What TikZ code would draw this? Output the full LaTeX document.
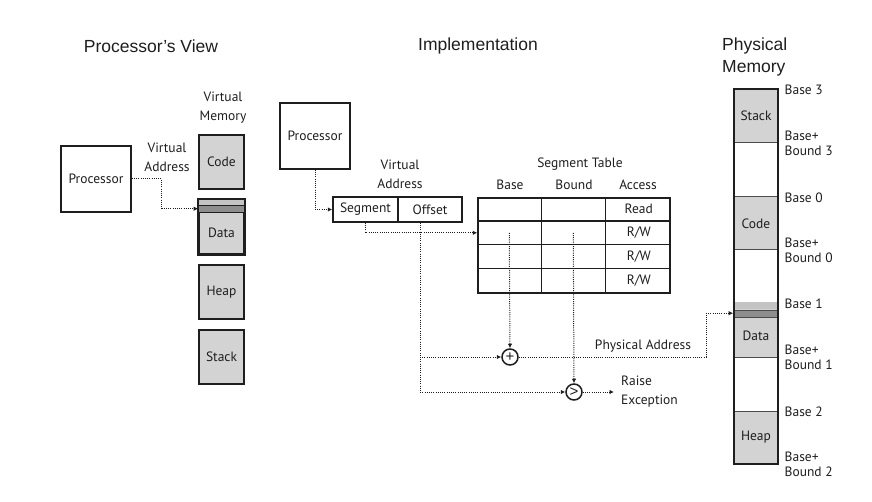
\documentclass[tikz,border=0pt]{standalone}
\usepackage{fontspec}
\setmainfont{Liberation Sans}
\newfontfamily\myriad{PT Sans}
\usetikzlibrary{arrows.meta,positioning,calc}
\definecolor{seggray}{HTML}{D3D3D3}
\definecolor{bandlight}{HTML}{C4C4C4}
\definecolor{banddark}{HTML}{8E8E8E}
\definecolor{ink}{HTML}{1E1E1E}

\begin{document}
\begin{tikzpicture}[x=1pt, y=-1pt, color=ink,
    title/.style={font=\fontsize{17.5}{22}\selectfont, align=left, inner sep=0},
    lbl/.style={font=\myriad\fontsize{13.5}{19}\selectfont, align=center, inner sep=0},
    cpu/.style={rectangle, draw, line width=1.6pt, minimum width=70, minimum height=66, lbl},
    seg/.style={rectangle, draw, line width=1.6pt, fill=seggray, minimum width=45, minimum height=54, lbl},
    pseg/.style={rectangle, draw=black!70, line width=1pt, fill=seggray, minimum width=44, minimum height=54, lbl},
    cell/.style={rectangle, draw, line width=1.5pt, minimum height=25, lbl},
    op/.style={circle, draw, line width=1.5pt, minimum size=16, inner sep=0, font=\fontsize{15}{15}\selectfont},
    dotline/.style={line width=1pt, dash pattern=on 1pt off 1.2pt},
    arrow/.style={dotline, -{Latex[length=4.5pt, width=4.5pt]}},
    bound/.style={lbl, font=\myriad\fontsize{13.5}{15}\selectfont, anchor=west, align=left}
]
\useasboundingbox (0,0) rectangle (872,502);

% Titles
\node[title] (tview) at (151,46) {Processor's View};
\node[title] (timpl) at (478,46) {Implementation};
\node[title, anchor=west] (tphys) at (722,57) {Physical\\Memory};

% Processor's view
\node[cpu] (cpuL) at (96,179) {Processor};
\node[lbl] (vmlabel) at (223,108) {Virtual\\Memory};
\node[seg] (codeV) at (221.5,162) {Code};
\node[seg] (dataV) at (221.5,227) {};
\node[seg] (heapV) at (221.5,292) {Heap};
\node[seg] (stackV) at (221.5,357) {Stack};
\fill[bandlight] ($(dataV.north west)+(0,1)$) rectangle ($(dataV.north east)+(0,6)$);
\fill[banddark] ($(dataV.north west)+(0,6)$) rectangle ($(dataV.north east)+(0,13)$);
\draw[line width=0.7pt] ($(dataV.north west)+(0,6)$) -- ($(dataV.north east)+(0,6)$);
\draw[line width=0.7pt] ($(dataV.north west)+(0,13)$) -- ($(dataV.north east)+(0,13)$);
\draw[line width=1.6pt] (dataV.north west) rectangle (dataV.south east);
\node[lbl] (dataVtext) at ($(dataV.center)+(0,6)$) {Data};

\node[lbl] (valabelL) at (167,157) {Virtual\\Address};
\coordinate (vaL) at ($(dataV.north west)+(0,9.5)$);
\draw[arrow] (cpuL.east) -- ++(30,0) |- (vaL);

% Implementation
\node[cpu] (cpuM) at (315,136) {Processor};
\node[lbl] (valabelM) at (400,174) {Virtual\\Address};
\node[cell, minimum width=65] (segV) at (365.5,209.5) {Segment};
\node[cell, minimum width=64] (offV) at (430,209.5) {Offset};
\draw[arrow] (cpuM.south) |- (segV.west);

% Segment table
\node[rectangle, draw, line width=1.5pt, minimum width=192, minimum height=95, inner sep=0] (segtab) at (574,245.5) {};
\node[lbl] (tabtitle) at (580,164) {Segment Table};
\node[lbl] (hbase) at (510,185) {Base};
\node[lbl] (hbound) at (574,185) {Bound};
\node[lbl] (hacc) at (638,185) {Access};
\foreach \k in {1,2}
  \draw[line width=1.5pt] ($(segtab.north west)+(64*\k,0)$) -- ($(segtab.south west)+(64*\k,0)$);
\foreach \k in {1,2,3}
  \draw[line width=1.5pt] ($(segtab.north west)+(0,23.75*\k)$) -- ($(segtab.north east)+(0,23.75*\k)$);
\foreach \t [count=\k] in {Read,R/W,R/W,R/W}
  \node[lbl] (acc\k) at ($(segtab.north east)+(-32,23.75*\k-11.875)$) {\t};

\coordinate (row2) at ($(segtab.north west)+(0,35.6)$);
\coordinate (base2) at ($(segtab.north west)+(32,35.6)$);
\coordinate (bound2) at ($(segtab.north west)+(96,35.6)$);
\draw[arrow] (segV.south) |- (row2);

% Adder and comparator
\node[op] (plus) at (510,357) {+};
\node[op] (cmp) at (574,392) {>};
\draw[arrow] (base2) -- (plus.north);
\draw[arrow] (bound2) -- (cmp.north);
\coordinate (offtap) at ($(offV.south)+(-10,0)$);
\draw[arrow] (offtap) |- (cmp.west);
\draw[arrow] (offtap |- plus) -- (plus.west);

\node[lbl, anchor=west, align=left] (raise) at (621,392) {Raise\\Exception};
\draw[arrow] (cmp.east) -- ([xshift=-7pt]raise.west);

% Physical memory
\node[pseg] (stackP) at (756,116) {Stack};
\node[pseg, minimum height=53] (codeP) at (756,223.5) {Code};
\node[pseg] (dataP) at (756,330) {};
\node[pseg, minimum height=53] (heapP) at (756,437.5) {Heap};
\fill[bandlight] ($(dataP.north west)+(0,0)$) rectangle ($(dataP.north east)+(0,7)$);
\fill[banddark] ($(dataP.north west)+(0,8)$) rectangle ($(dataP.north east)+(0,15)$);
\draw[line width=0.7pt, black!70] ($(dataP.north west)+(0,8)$) -- ($(dataP.north east)+(0,8)$);
\draw[line width=0.7pt, black!70] ($(dataP.north west)+(0,15)$) -- ($(dataP.north east)+(0,15)$);
\node[lbl] (dataPtext) at ($(dataP.center)+(0,6)$) {Data};
\node[rectangle, draw, line width=1.6pt, minimum width=44, minimum height=375, inner sep=0] (phys) at (756,276.5) {};

\foreach \s/\n in {stackP/3, codeP/0, dataP/1, heapP/2} {
  \node[bound] (base\n) at ($(\s.north east)+(6,1)$) {Base \n};
  \node[bound] (top\n) at ($(\s.south east)+(6,0)$) {Base+\\Bound \n};
}

\coordinate (paddr) at ($(phys.north west)+(0,225)$);
\draw[arrow] (plus.east) -| ($(paddr)+(-27,0)$) -- (paddr);
\node[lbl] (palabel) at (643,346) {Physical Address};

\end{tikzpicture}
\end{document}
